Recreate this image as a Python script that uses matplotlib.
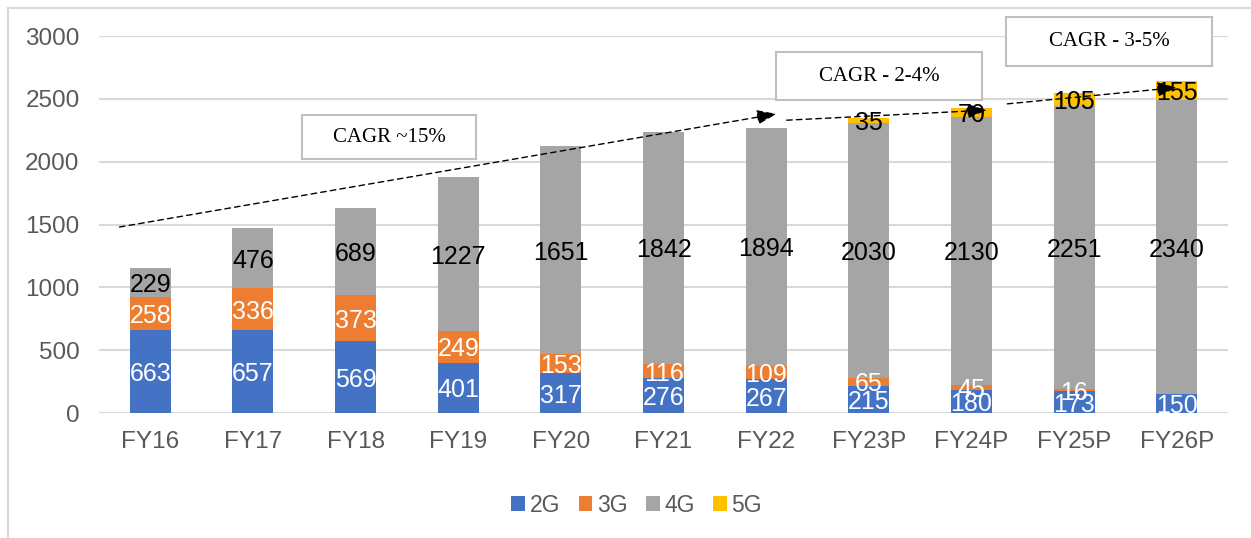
import numpy as np
import matplotlib.pyplot as plt
from matplotlib.patches import Rectangle

# data
years = ['FY16', 'FY17', 'FY18', 'FY19', 'FY20', 'FY21', 'FY22',
         'FY23P', 'FY24P', 'FY25P', 'FY26P']
g2 = [663, 657, 569, 401, 317, 276, 267, 215, 180, 173, 150]
g3 = [258, 336, 373, 249, 153, 116, 109, 65, 45, 16, 0]
g4 = [229, 476, 689, 1227, 1651, 1842, 1894, 2030, 2130, 2251, 2340]
g5 = [0, 0, 0, 0, 0, 0, 0, 35, 70, 105, 155]
series_names = ['2G', '3G', '4G', '5G']

cagr_text = ['CAGR ~15%', 'CAGR - 2-4%', 'CAGR - 3-5%']

plt.rcParams['font.family'] = ['Liberation Sans', 'DejaVu Sans']

colors = ['#4472C4', '#ED7D31', '#A5A5A5', '#FFC000']
label_colors = ['white', 'white', 'black', 'black']

fig = plt.figure(figsize=(12.51, 5.38), dpi=100)
ax = fig.add_axes([99/1251, 1 - 413/538, (1228 - 99)/1251, (413 - 36)/538])

x = np.arange(len(years))
bottom = np.zeros(len(years))
for vals, name, col, lc in zip([g2, g3, g4, g5], series_names, colors, label_colors):
    vals = np.array(vals, dtype=float)
    ax.bar(x, vals, 0.4, bottom=bottom, color=col, label=name, zorder=2)
    for xi, b, v in zip(x, bottom, vals):
        if v > 0:
            ax.text(xi, b + v / 2, str(int(v)), ha='center', va='center_baseline',
                    color=lc, fontsize=18, zorder=4)
    bottom += vals

ax.set_xlim(-0.5, len(years) - 0.5)
ax.set_ylim(0, 3000)
ax.set_yticks(np.arange(0, 3001, 500))
ax.set_xticks(x)
ax.set_xticklabels(years)
ax.grid(axis='y', color='#D9D9D9', linewidth=1.5, zorder=0)
for s in ax.spines.values():
    s.set_visible(False)
ax.tick_params(length=0, labelsize=17.5, colors='#595959')
ax.tick_params(axis='y', pad=14)
ax.tick_params(axis='x', pad=13)

# CAGR arrows
arrows = [((-0.3, 1480), (6.1, 2380)),
          ((6.2, 2330), (8.15, 2410)),
          ((8.35, 2460), (10.0, 2590))]
for (x0, y0), (x1, y1) in arrows:
    ax.annotate('', xy=(x1, y1), xytext=(x0, y0),
                arrowprops=dict(arrowstyle='-|>,head_length=1.2,head_width=0.45',
                                linestyle=(0, (4, 3)), color='black', lw=1,
                                shrinkA=0, shrinkB=0),
                zorder=5, annotation_clip=False)

# CAGR boxes
boxes = [(1.48, 2020, 1.69, 350),
         (6.10, 2490, 2.0, 383),
         (8.34, 2760, 2.0, 390)]
for (bx, by, bw, bh), t in zip(boxes, cagr_text):
    ax.add_patch(Rectangle((bx, by), bw, bh, facecolor='white', edgecolor='#BFBFBF',
                           linewidth=1.5, zorder=6, clip_on=False))
    ax.text(bx + bw / 2, by + bh / 2, t, ha='center', va='center', fontsize=15,
            family=['Liberation Serif', 'DejaVu Serif'], zorder=7)

handles, labels = ax.get_legend_handles_labels()
fig.legend(handles, labels, loc='center', bbox_to_anchor=(0.509, 1 - 505/538), ncol=4,
           frameon=False, fontsize=16.5, handlelength=0.6, handleheight=0.6,
           handletextpad=0.2, columnspacing=0.8, labelcolor='#595959')

# outer frame
fig.add_artist(Rectangle((8/1251, -0.1), 1.2, 1 - 8/538 + 0.1, transform=fig.transFigure,
                         facecolor='none', edgecolor='#D9D9D9', linewidth=1.5))

fig.savefig('out.png', dpi=100)
